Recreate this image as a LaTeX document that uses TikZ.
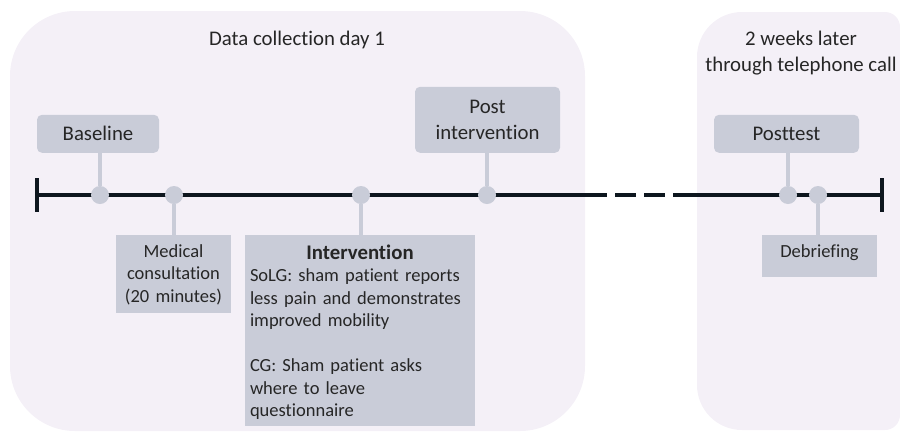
\documentclass[tikz,border=0pt]{standalone}
\usepackage{fontspec}
\setmainfont{Carlito}[Ligatures=NoCommon]
\definecolor{panelbg}{RGB}{244,240,247}
\definecolor{boxgray}{RGB}{201,204,216}
\definecolor{linedark}{RGB}{13,22,30}
\definecolor{txtgray}{RGB}{38,38,38}
\begin{document}
\begin{tikzpicture}[x=1pt,y=-1pt,font=\fontsize{20.8}{25.4}\selectfont,text=txtgray,
  panel/.style={fill=panelbg},
  tline/.style={draw=linedark,line width=4pt},
  dot/.style={circle,fill=boxgray,inner sep=0pt,minimum size=18pt},
  conn/.style={draw=boxgray,line width=3.5pt},
  tag/.style={fill=boxgray,rounded corners=5pt,align=center,inner sep=0pt,anchor=south,minimum height=38pt},
  card/.style={fill=boxgray,anchor=north,inner xsep=5pt,inner ysep=0pt,font=\fontsize{18.5}{22.5}\selectfont}]
\useasboundingbox (0,0) rectangle (900,432);
\fill[panel,rounded corners=65pt] (10,11) rectangle (585,431);
\fill[panel] (800,430) [rounded corners=45pt] -- (697,430) -- (697,12) [rounded corners=15pt] -- (900,12) -- (900,430) -- cycle;
\node (day1) at (297,40) {Data collection day 1};
\node[align=center] (later) at (801,53) {2 weeks later\\through telephone call};
\coordinate (t0) at (37,195);
\coordinate (d0) at (607,195);
\coordinate (d1) at (673,195);
\coordinate (t1) at (882,195);
\draw[tline] (t0) -- (d0);
\draw[tline,dash pattern=on 21pt off 8pt,dash phase=21pt] (d0) -- (d1);
\draw[tline] (d1) -- (t1);
\draw[tline] (37,178) -- (37,212);
\draw[tline] (882,178) -- (882,212);
\node[dot] (bl) at (100,195) {};
\node[dot] (med) at (174,195) {};
\node[dot] (int) at (361,195) {};
\node[dot] (post) at (487,195) {};
\node[dot] (ptest) at (788,195) {};
\node[dot] (deb) at (818,195) {};
\node[tag,minimum width=122pt] (blbox) at (98,153) {Baseline};
\node[tag,minimum width=145pt,minimum height=66pt] (postbox) at (487.5,153) {Post\\intervention};
\node[tag,minimum width=145pt] (ptestbox) at (786.5,153) {Posttest};
\node[card,text width=105pt,align=center,text height=22pt,text depth=56pt] (medbox) at (173.5,235) {Medical\\consultation\\(20 minutes)};
\node[card,text width=220pt,align=left,text height=24pt,text depth=167pt] (intbox) at (360,235)
  {\makebox[220pt]{\fontsize{20.8}{22.5}\selectfont\textbf{Intervention}}\\SoLG: sham patient reports\\less pain and demonstrates\\improved mobility\\[22.5pt]CG: Sham patient asks\\where to leave\\questionnaire};
\node[card,minimum width=115pt,text height=22pt,text depth=20pt] (debbox) at (819.5,235) {Debriefing};
\draw[conn] (blbox.south -| bl) -- (bl);
\draw[conn] (postbox.south -| post) -- (post);
\draw[conn] (ptestbox.south -| ptest) -- (ptest);
\draw[conn] (med) -- (medbox.north -| med);
\draw[conn] (int) -- (intbox.north -| int);
\draw[conn] (deb) -- (debbox.north -| deb);
\end{tikzpicture}
\end{document}
